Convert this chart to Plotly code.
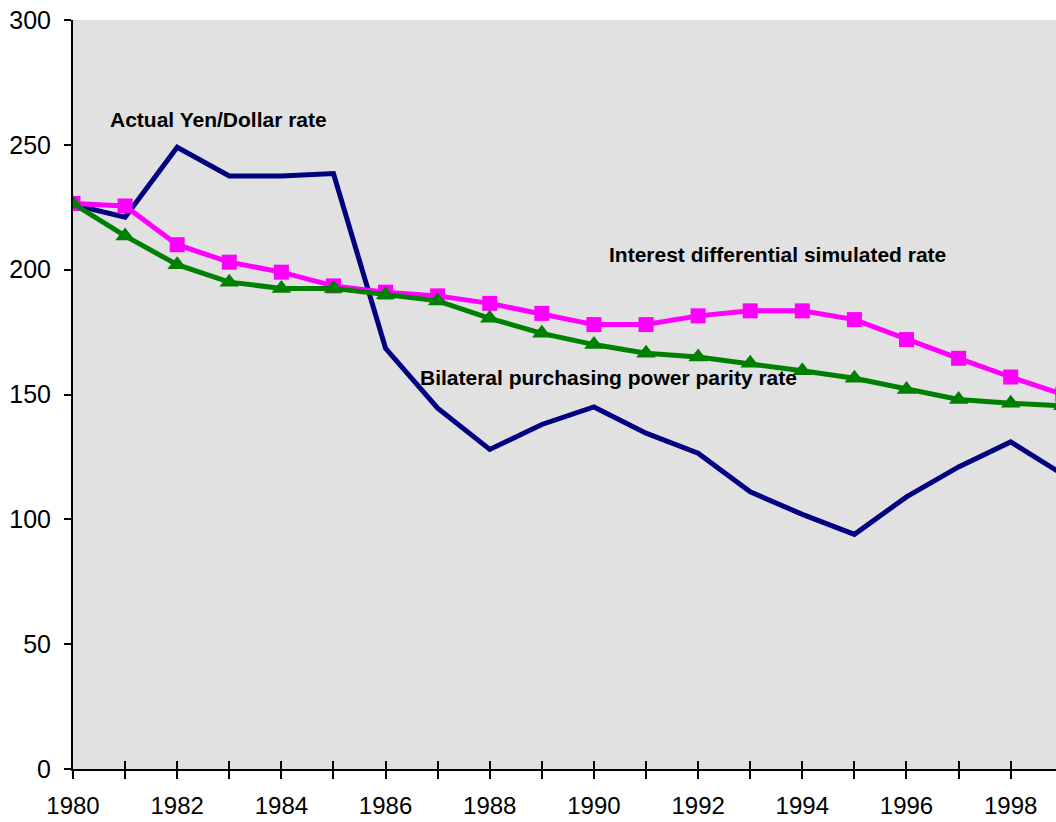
import plotly.graph_objects as go

years = list(range(1980, 2000))
actual_rate = [226, 221, 249, 237.5, 237.5, 238.5, 168.5, 144.5, 128, 138, 145, 134.5,
               126.5, 111, 102, 94, 109, 121, 131, 118]
interest_diff_rate = [226.5, 225.5, 210, 203, 199, 193.5, 191, 189.5, 186.5, 182.5, 178, 178,
                      181.5, 183.5, 183.5, 180, 172, 164.5, 157, 150]
ppp_rate = [226.5, 213.5, 202, 195, 192.5, 192.5, 190, 187.5, 180.5, 174.5, 170, 166.5,
            165, 162.5, 159.5, 156.5, 152, 148, 146.5, 145.5]

x_tick_vals = list(range(1980, 2000))
x_tick_text = [str(y) if y % 2 == 0 else "" for y in x_tick_vals]
y_tick_vals = [0, 50, 100, 150, 200, 250, 300]

labels = [
    ("Actual Yen/Dollar rate", 1980.68, 260),
    ("Interest differential simulated rate", 1990.25, 206),
    ("Bilateral purchasing power parity rate", 1986.62, 157),
]

fig = go.Figure()
fig.add_trace(go.Scatter(x=years, y=actual_rate, mode="lines",
                         line=dict(color="#000080", width=5), name="Actual"))
fig.add_trace(go.Scatter(x=years, y=interest_diff_rate, mode="lines+markers",
                         line=dict(color="#FF00FF", width=5),
                         marker=dict(symbol="square", size=15, color="#FF00FF"),
                         name="Interest"))
fig.add_trace(go.Scatter(x=years, y=ppp_rate, mode="lines+markers",
                         line=dict(color="#008000", width=5),
                         marker=dict(symbol="triangle-up", size=17, color="#008000"),
                         name="PPP"))
# invisible trace on overlay axis for inside ticks
fig.add_trace(go.Scatter(x=years, y=ppp_rate, xaxis="x2", mode="lines",
                         line=dict(width=0), opacity=0, hoverinfo="skip", showlegend=False))

for text, x, y in labels:
    fig.add_annotation(x=x, y=y, text=f"<b>{text}</b>", showarrow=False,
                       xanchor="left", yanchor="middle",
                       font=dict(family="Liberation Sans, Arial", size=21, color="black"))

fig.update_layout(
    width=1056, height=822,
    margin=dict(l=73, r=0, t=20, b=53),
    paper_bgcolor="white", plot_bgcolor="#e1e1e1",
    showlegend=False,
    font=dict(family="Liberation Sans, Arial", size=24, color="black"),
    xaxis=dict(range=[1980, 1998.87], tickvals=x_tick_vals, ticktext=x_tick_text,
               showgrid=False, zeroline=False, showline=True, linecolor="black", linewidth=2,
               ticks="outside", ticklen=8, tickwidth=1.5, tickcolor="black",
               ticklabelstandoff=6, tickfont=dict(size=24)),
    xaxis2=dict(range=[1980, 1998.87], overlaying="x", side="bottom",
                tickvals=x_tick_vals, showticklabels=False, showgrid=False, zeroline=False,
                showline=False, ticks="inside", ticklen=8, tickwidth=1.5, tickcolor="black"),
    yaxis=dict(range=[0, 300], tickvals=y_tick_vals, showgrid=False, zeroline=False,
               showline=True, linecolor="black", linewidth=2,
               ticks="outside", ticklen=7, tickwidth=1.5, tickcolor="black",
               ticklabelstandoff=8, tickfont=dict(size=25)),
)

fig.write_html("out.html", config={"displayModeBar": False},
               post_script="document.body.style.margin='0';document.body.style.overflow='hidden';")
